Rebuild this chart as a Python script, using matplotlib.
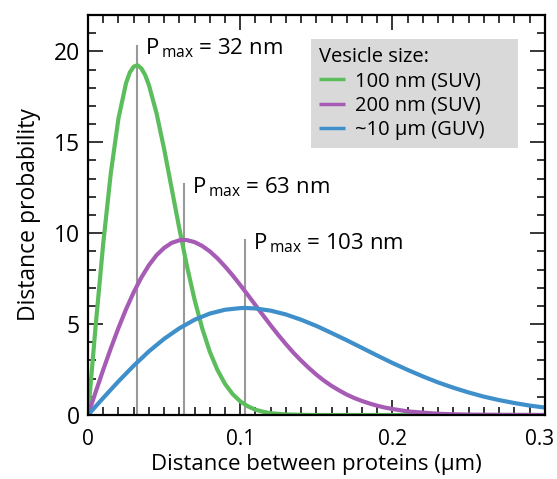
import numpy as np
import matplotlib.pyplot as plt
import matplotlib.transforms as mtransforms
from matplotlib.ticker import MultipleLocator

plt.rcParams['font.family'] = ['Open Sans', 'DejaVu Sans']
plt.rcParams['mathtext.fontset'] = 'custom'
plt.rcParams['mathtext.rm'] = 'Open Sans'

# distance (um) and probability
x_suv100 = [0, 0.005, 0.01, 0.015, 0.02, 0.025, 0.0275, 0.03, 0.0325, 0.035, 0.0375,
            0.04, 0.045, 0.05, 0.055, 0.06, 0.065, 0.07, 0.075, 0.08, 0.085, 0.09,
            0.095, 0.1, 0.105, 0.11, 0.115, 0.12, 0.13, 0.14, 0.15, 0.3]
y_suv100 = [0, 4.89, 9.44, 13.32, 16.31, 18.26, 18.85, 19.16, 19.24, 19.07, 18.71,
            18.15, 16.60, 14.63, 12.44, 10.25, 8.19, 6.34, 4.77, 3.48, 2.48, 1.71,
            1.15, 0.75, 0.48, 0.29, 0.18, 0.10, 0.03, 0.01, 0, 0]

x_suv200 = [0, 0.005, 0.01, 0.015, 0.02, 0.025, 0.03, 0.035, 0.04, 0.045, 0.05,
            0.055, 0.06, 0.063, 0.065, 0.07, 0.075, 0.08, 0.085, 0.09, 0.095, 0.1,
            0.105, 0.11, 0.115, 0.12, 0.125, 0.13, 0.135, 0.14, 0.145, 0.15, 0.155,
            0.16, 0.165, 0.17, 0.175, 0.18, 0.185, 0.19, 0.195, 0.2, 0.21, 0.22,
            0.23, 0.24, 0.25, 0.27, 0.3]
y_suv200 = [0, 1.26, 2.49, 3.67, 4.79, 5.82, 6.75, 7.56, 8.24, 8.79, 9.19,
            9.47, 9.61, 9.63, 9.62, 9.51, 9.30, 9.00, 8.62, 8.17, 7.68, 7.15,
            6.60, 6.04, 5.48, 4.93, 4.40, 3.90, 3.42, 2.99, 2.59, 2.22, 1.89,
            1.60, 1.35, 1.12, 0.93, 0.77, 0.63, 0.51, 0.41, 0.33, 0.20, 0.13,
            0.07, 0.04, 0.02, 0.01, 0]

x_guv = [0, 0.01, 0.02, 0.03, 0.04, 0.05, 0.06, 0.07, 0.08, 0.09, 0.1, 0.103,
         0.11, 0.12, 0.13, 0.14, 0.15, 0.16, 0.17, 0.18, 0.19, 0.2, 0.21, 0.22,
         0.23, 0.24, 0.25, 0.26, 0.27, 0.28, 0.29, 0.3]
y_guv = [0, 0.94, 1.85, 2.71, 3.50, 4.19, 4.77, 5.24, 5.58, 5.79, 5.88, 5.89,
         5.86, 5.74, 5.53, 5.24, 4.90, 4.51, 4.11, 3.69, 3.27, 2.86, 2.48, 2.12,
         1.79, 1.50, 1.24, 1.01, 0.82, 0.66, 0.52, 0.41]

labels = ['100 nm (SUV)', '200 nm (SUV)', '~10 µm (GUV)']
colors = ['#5cbd5c', '#a65bb5', '#3f8fcb']

pmax = [0.032, 0.063, 0.103]
pmax_top = [20.3, 12.7, 9.6]
pmax_text = ['32 nm', '63 nm', '103 nm']
text_x = [0.0374, 0.0683, 0.1083]
text_y = [19.83, 12.2, 9.09]

fig = plt.figure(figsize=(5.57, 4.79), dpi=100)
ax = fig.add_axes([0.158, 0.1336, 0.820, 0.835])

for px, top in zip(pmax, pmax_top):
    ax.plot([px, px], [0, top], color='#999999', lw=1.5, zorder=1)

for xs, ys, lab, c in zip([x_suv100, x_suv200, x_guv],
                          [y_suv100, y_suv200, y_guv], labels, colors):
    ax.plot(xs, ys, color=c, lw=3, label=lab, zorder=2, solid_capstyle='butt')

for tx, ty, t in zip(text_x, text_y, pmax_text):
    ax.text(tx, ty, r'$\mathrm{P}_{\,\mathrm{max}}$ = ' + t, fontsize=16,
            va='baseline', ha='left')

ax.set_xlim(0, 0.3)
ax.set_ylim(0, 22)
ax.xaxis.set_minor_locator(MultipleLocator(0.01))
ax.yaxis.set_major_locator(MultipleLocator(5))
ax.yaxis.set_minor_locator(MultipleLocator(1))
ax.set_xticks([0, 0.1, 0.2, 0.3])
ax.set_xticklabels(['0', '0.1', '0.2', '0.3'])
ax.tick_params(which='both', direction='in', top=True, right=True, width=1.1)
ax.tick_params(which='major', length=11)
ax.tick_params(which='minor', length=5.5)
ax.tick_params(axis='y', labelsize=16.5, pad=6)
ax.tick_params(axis='x', labelsize=15, pad=10)
for s in ax.spines.values():
    s.set_linewidth(1.6)

# last x label sits a little left of its tick
last = ax.get_xticklabels()[-1]
last.set_transform(last.get_transform() +
                   mtransforms.ScaledTranslation(-5 / 100, 0, fig.dpi_scale_trans))

ax.set_xlabel('Distance between proteins (µm)', fontsize=16, labelpad=3)
ax.set_ylabel('Distance probability', fontsize=16.5, labelpad=9)

leg = ax.legend(title='Vesicle size:', loc='upper left',
                bbox_to_anchor=(0.488, 0.665, 0.453, 0.275), mode='expand',
                borderaxespad=0, fontsize=14.5,
                title_fontsize=14.5, facecolor='#d9d9d9', edgecolor='none',
                framealpha=1, fancybox=False, handlelength=1.3,
                handletextpad=0.5, labelspacing=0.22, borderpad=0.4)
leg._legend_box.align = 'left'
for h in leg.get_lines():
    h.set_linewidth(2.5)

fig.savefig('out.png', dpi=100)
